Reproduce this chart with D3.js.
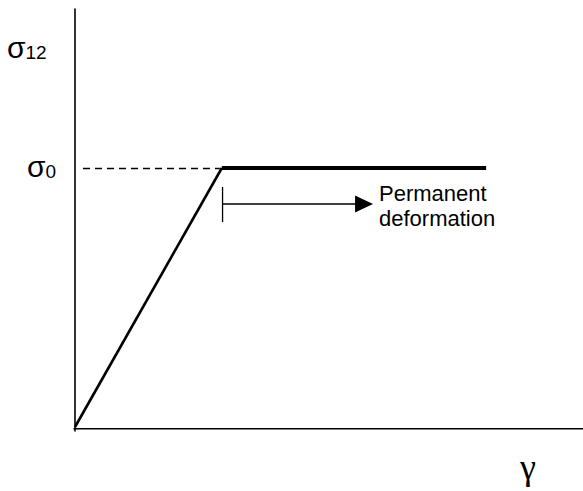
<!DOCTYPE html>
<html>
<head>
<meta charset="utf-8">
<script src="https://cdn.jsdelivr.net/npm/d3@7"></script>
<style>
  html, body { margin: 0; padding: 0; background: #fff; }
  svg { display: block; }
</style>
</head>
<body>
<svg id="chart" width="583" height="491"></svg>
<script>
// Ideal elastic–plastic shear response: linear rise to the yield stress, then flat
const strain = [0, 1.0, 2.8];          // γ
const stress = [0, 1.0, 1.0];          // σ12 (in units of σ0)
const sigma0 = 1.0;                    // yield stress
const yieldStrain = 1.0;
const arrowSpan = [1.005, 2.03];       // extent of the "permanent deformation" arrow
const annotation = ["Permanent", "deformation"];

const svg = d3.select("#chart");

const x = d3.scaleLinear().domain([0, 3.46]).range([75, 583]);
const y = d3.scaleLinear().domain([0, 1.0]).range([427, 168]);

// y axis: bare line, no ticks
const yAxisScale = y.copy().domain([y.invert(431), y.invert(8)]).range([431, 8]);
svg.append("g")
  .attr("transform", `translate(${x(0) - 0.5},0)`)
  .call(d3.axisLeft(yAxisScale).tickValues([]).tickSizeOuter(0))
  .call(g => g.select(".domain").attr("stroke", "#000").attr("stroke-width", 1.6));

// x axis: bare line along the bottom
const xAxisScale = x.copy().domain([x.invert(73), 3.46]).range([73, 583]);
svg.append("g")
  .attr("transform", `translate(0,${y(0) + 1.3})`)
  .call(d3.axisBottom(xAxisScale).tickValues([]).tickSizeOuter(0))
  .call(g => g.select(".domain").attr("stroke", "#000").attr("stroke-width", 1.6));

// dashed guide at the yield stress
svg.append("line")
  .attr("x1", x(0) + 8).attr("x2", x(yieldStrain) - 2)
  .attr("y1", y(sigma0) + 0.5).attr("y2", y(sigma0) + 0.5)
  .attr("stroke", "#000").attr("stroke-width", 1.3)
  .attr("stroke-dasharray", "7,5");

const pts = strain.map((s, i) => [s, stress[i]]);
const line = d3.line().x(d => x(d[0])).y(d => y(d[1]));
// elastic part
svg.append("path")
  .attr("d", line(pts.slice(0, 2)))
  .attr("fill", "none").attr("stroke", "#000").attr("stroke-width", 2.6);
// plastic plateau
svg.append("path")
  .attr("d", line(pts.slice(1)))
  .attr("fill", "none").attr("stroke", "#000").attr("stroke-width", 4);

// permanent deformation arrow
const ay = y(sigma0) + 36;
svg.append("line")
  .attr("x1", x(arrowSpan[0])).attr("x2", x(arrowSpan[0]))
  .attr("y1", ay - 17).attr("y2", ay + 18)
  .attr("stroke", "#000").attr("stroke-width", 1.3);
svg.append("line")
  .attr("x1", x(arrowSpan[0])).attr("x2", x(arrowSpan[1]) - 16)
  .attr("y1", ay).attr("y2", ay)
  .attr("stroke", "#000").attr("stroke-width", 1.5);
svg.append("path")
  .attr("d", `M${x(arrowSpan[1]) - 18},${ay - 8.5}L${x(arrowSpan[1])},${ay}L${x(arrowSpan[1]) - 18},${ay + 8.5}Z`)
  .attr("fill", "#000");

const tx = x(arrowSpan[1]) + 6;
const note = svg.append("text")
  .attr("x", tx)
  .attr("y", y(sigma0) + 33)
  .attr("font-family", "Liberation Sans, Arial, sans-serif")
  .attr("font-size", 22)
  .attr("fill", "#000");
annotation.forEach((t, i) => {
  note.append("tspan").attr("x", tx).attr("dy", i === 0 ? 0 : 25).text(t);
});

// axis labels
const sig12 = svg.append("text")
  .attr("x", 7).attr("y", 58)
  .attr("font-family", "Liberation Sans, Arial, sans-serif")
  .attr("fill", "#000");
sig12.append("tspan").attr("font-size", 30).text("σ");
sig12.append("tspan").attr("font-size", 19).attr("dy", 1).text("12");

const sig0 = svg.append("text")
  .attr("x", 27).attr("y", y(sigma0) + 9)
  .attr("font-family", "Liberation Sans, Arial, sans-serif")
  .attr("fill", "#000");
sig0.append("tspan").attr("font-size", 30).text("σ");
sig0.append("tspan").attr("font-size", 19).attr("dy", 1).text("0");

svg.append("text")
  .attr("x", 520).attr("y", 479)
  .attr("font-family", "Liberation Serif, Times New Roman, serif")
  .attr("font-size", 36)
  .attr("fill", "#000")
  .text("γ");
</script>
</body>
</html>
